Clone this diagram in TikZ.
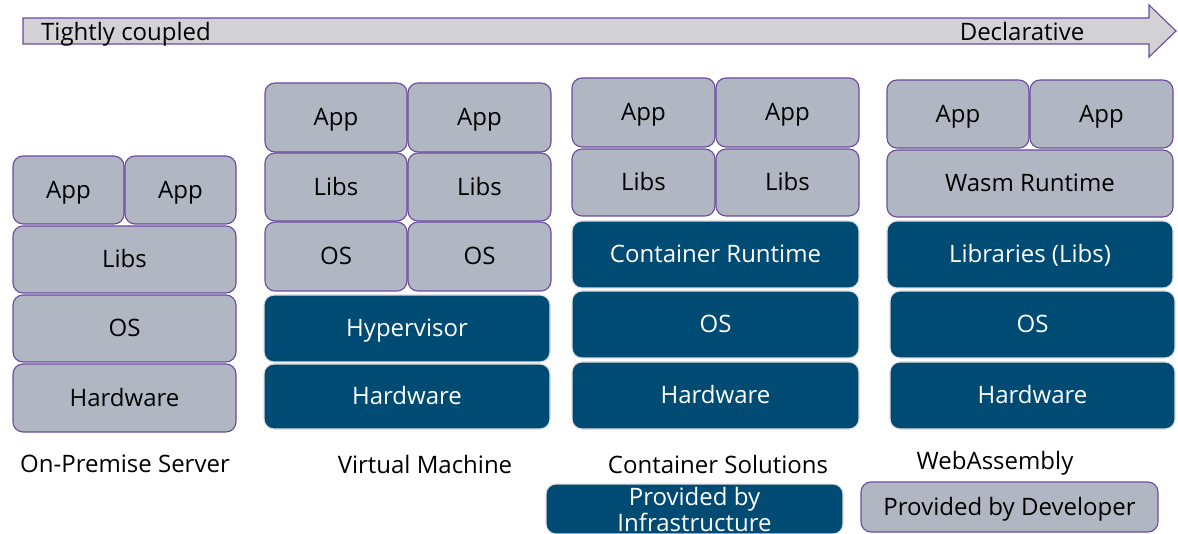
\documentclass[tikz,border=0pt]{standalone}
\usepackage{fontspec}
\setmainfont{Open Sans}
\definecolor{devgray}{HTML}{B0B7C2}
\definecolor{infrablue}{HTML}{004B74}
\definecolor{edgepurple}{HTML}{6B4A9E}
\definecolor{arrowgray}{HTML}{D2D2D6}
\tikzset{
  layerbox/.style={draw, rounded corners=10pt, inner sep=0pt, line width=1.1pt,
    font=\fontsize{24}{28}\selectfont, align=center},
  devfill/.style={layerbox, fill=devgray, draw=edgepurple, text=black},
  infrafill/.style={layerbox, fill=infrablue, draw=white!88!black, text=white},
  % single-line labels: keep the capitals centred in the box
  capcentred/.style={text height=17pt, text depth=0pt},
  devbox/.style={devfill, capcentred},
  infrabox/.style={infrafill, capcentred},
  caption/.style={font=\fontsize{24}{28}\selectfont, inner sep=0pt},
  bigarrow/.style={fill=arrowgray, draw=edgepurple, line width=1.1pt, line join=miter},
}
% \layer{style}{name}{x1}{y1}{x2}{y2}{text}: a box spanning the given corners
\newcommand\layer[7]{%
  \node[#1, minimum width={(#5-#3)*1pt}, minimum height={(#6-#4)*1pt}]
    (#2) at ({(#3+#5)/2},{(#4+#6)/2}) {#7};}
\begin{document}
\begin{tikzpicture}[x=1pt, y=-1pt]
\useasboundingbox (0,0) rectangle (1178,534);

% direction arrow along the top
\draw[bigarrow] (23,18) -- (1149,18) -- (1149,5) -- (1176,31) -- (1149,57)
  -- (1149,44) -- (23,44) -- cycle;
\node[caption, anchor=west] (tight) at (41,34) {Tightly coupled};
\node[caption] (decl) at (1022,32) {Declarative};

% On-premise server
\layer{devbox}{opA}{13}{156}{124}{224}{App}
\layer{devbox}{opB}{125}{156}{236}{224}{App}
\layer{devbox}{opLibs}{13}{226}{236}{293}{Libs}
\layer{devbox}{opOS}{13}{295}{236}{362}{OS}
\layer{devbox}{opHW}{13}{364}{236}{432}{Hardware}

% Virtual machine
\layer{devbox}{vmA}{265}{83}{407}{152}{App}
\layer{devbox}{vmB}{408}{83}{551}{152}{App}
\layer{devbox}{vmLa}{265}{153}{407}{221}{Libs}
\layer{devbox}{vmLb}{408}{153}{551}{221}{Libs}
\layer{devbox}{vmOa}{265}{222}{407}{291}{OS}
\layer{devbox}{vmOb}{408}{222}{551}{291}{OS}
\layer{infrabox}{vmHyp}{264}{295}{550}{362}{Hypervisor}
\layer{infrabox}{vmHW}{264}{364}{550}{429}{Hardware}

% Container solutions
\layer{devbox}{ctA}{572}{78}{715}{147}{App}
\layer{devbox}{ctB}{716}{78}{859}{147}{App}
\layer{devbox}{ctLa}{572}{149}{715}{216}{Libs}
\layer{devbox}{ctLb}{716}{149}{859}{216}{Libs}
\layer{infrabox}{ctRT}{572}{221}{859}{288}{Container Runtime}
\layer{infrabox}{ctOS}{572}{291}{859}{358}{OS}
\layer{infrabox}{ctHW}{572}{362}{859}{429}{Hardware}

% WebAssembly
\layer{devbox}{waA}{887}{80}{1029}{148}{App}
\layer{devbox}{waB}{1030}{80}{1173}{148}{App}
\layer{devbox}{waRT}{887}{150}{1173}{217}{Wasm Runtime}
\layer{infrabox}{waLibs}{887}{221}{1173}{288}{Libraries (Libs)}
\layer{infrabox}{waOS}{890}{291}{1175}{358}{OS}
\layer{infrabox}{waHW}{890}{362}{1175}{429}{Hardware}

% column captions
\node[caption] (capOP) at (125,464) {On-Premise Server};
\node[caption] (capVM) at (425,464) {Virtual Machine};
\node[caption] (capCT) at (718,464) {Container Solutions};
\node[caption] (capWA) at (995,463) {WebAssembly};

% legend
\layer{infrafill}{legInfra}{546}{484}{843}{534}{Provided by\\[-2pt]Infrastructure}
\layer{devbox}{legDev}{861}{482}{1158}{532}{Provided by Developer}
\end{tikzpicture}
\end{document}
